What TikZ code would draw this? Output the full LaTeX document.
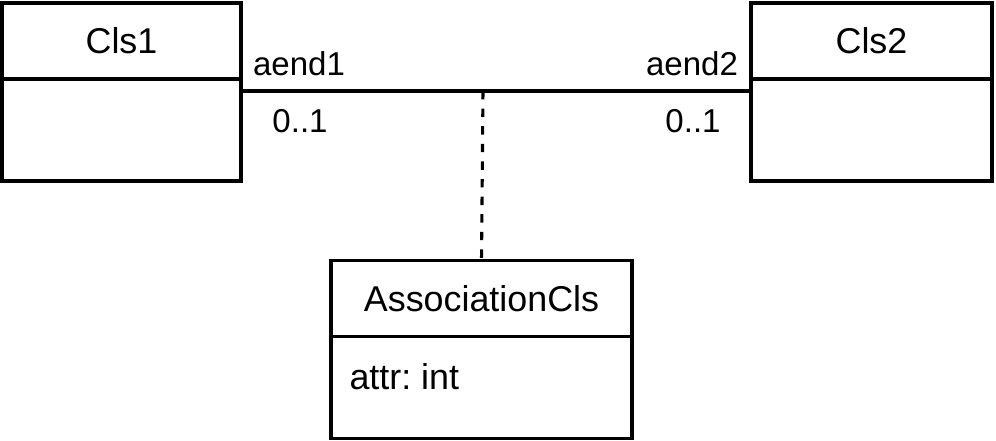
\documentclass[tikz,border=0pt]{standalone}
\usepackage{fontspec}
\setmainfont{Liberation Sans}
\usetikzlibrary{positioning}

\begin{document}
\begin{tikzpicture}[
    x=0.025cm, y=-0.025cm,
    font=\fontsize{25.5}{30}\selectfont\frenchspacing,
    line width=2.5pt,
    clshead/.style={draw, outer sep=0pt, minimum width=#1, minimum height=1.9cm, inner sep=0pt},
    clshead/.default=5.975cm,
    clsbody/.style={draw, outer sep=0pt, minimum width=#1, minimum height=2.55cm, inner sep=0pt},
    clsbody/.default=5.975cm,
    assoc/.style={line width=2.5pt},
    link/.style={line width=2.2pt, dash pattern=on 0.21cm off 0.23cm},
    endlab/.style={inner sep=0pt, font=\fontsize{23.5}{28}\selectfont}
  ]
    \useasboundingbox (0,0) rectangle (996,441);

    % classes
    \node[clshead] (cls1) at (121.5,41) {Cls1};
    \node[clsbody, below=0pt of cls1] (cls1b) {};
    \node[clshead=6.025cm] (cls2) at (871.5,41) {Cls2};
    \node[clsbody=6.025cm, below=0pt of cls2] (cls2b) {};
    \node[clshead=7.525cm] (acls) at (481.5,298.5) {AssociationCls};
    \node[clsbody=7.525cm, below=0pt of acls] (aclsb) {};
    \node[inner sep=0pt, anchor=west] (attr) at ([xshift=0.42cm, yshift=0.27cm]aclsb.west) {attr: int};

    % association
    \coordinate (mid) at (483,91);
    \draw[assoc] (mid -| cls1b.east) -- (mid -| cls2b.west);
    \draw[link] (mid) -- (acls.north);

    \node[endlab] (aend1) at (299,64) {aend1};
    \node[endlab] (mult1) at (300,121) {0..1};
    \node[endlab] (aend2) at (692,64) {aend2};
    \node[endlab] (mult2) at (693,121) {0..1};
  \end{tikzpicture}
\end{document}
